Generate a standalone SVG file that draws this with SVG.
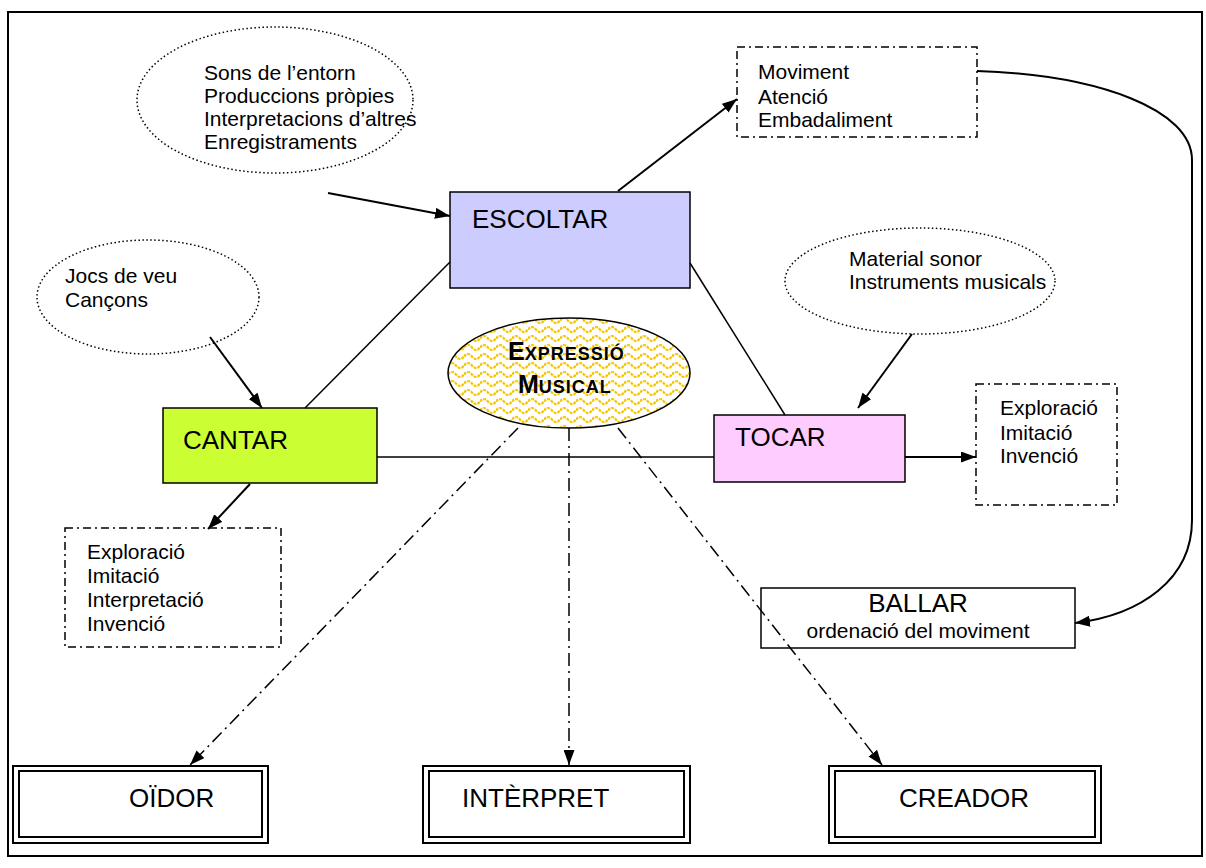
<svg xmlns="http://www.w3.org/2000/svg" width="1206" height="868" viewBox="0 0 1206 868">
  <style>
    text { font-family: "Liberation Sans", Arial, sans-serif; fill: #000; }
    .sm { font-size: 21px; }
    .lg { font-size: 26px; }
    .dotted { fill: #fff; stroke: #000; stroke-width: 1.5; stroke-dasharray: 1.5 2.5; }
    .dashdot { fill: #fff; stroke: #000; stroke-width: 1.5; stroke-dasharray: 8 4 2 4; }
    .box { stroke: #000; stroke-width: 1.5; }
    .link { fill: none; stroke: #000; stroke-width: 1.5; }
    .arrow { fill: none; stroke: #000; stroke-width: 2; marker-end: url(#head); }
    .ddarrow { fill: none; stroke: #000; stroke-width: 1.5; stroke-dasharray: 13 5 2 5; marker-end: url(#head); }
    .dbl-out { fill: #fff; stroke: #000; stroke-width: 2; }
    .dbl-in { fill: none; stroke: #000; stroke-width: 2; }
  </style>
  <defs>
    <marker id="head" viewBox="0 0 15 11" refX="15" refY="5.5" markerWidth="15" markerHeight="11" markerUnits="userSpaceOnUse" orient="auto">
      <path d="M0,0 L15,5.5 L0,11 z" fill="#000"/>
    </marker>
    <pattern id="waves" width="16" height="9" patternUnits="userSpaceOnUse">
      <rect width="16" height="9" fill="#fff"/>
      <path d="M0,5.5 Q4,0.5 8,5.5 T16,5.5" fill="none" stroke="#F7C600" stroke-width="2.2" stroke-dasharray="3 1"/>
    </pattern>
  </defs>

  <!-- frame -->
  <rect x="8" y="12" width="1194" height="844" fill="#fff" stroke="#000" stroke-width="2"/>

  <!-- sources ellipses -->
  <g id="sons">
    <ellipse class="dotted" cx="275" cy="100" rx="138" ry="73"/>
    <text class="sm" x="204" y="80">Sons de l’entorn</text>
    <text class="sm" x="204" y="103">Produccions pròpies</text>
    <text class="sm" x="204" y="126">Interpretacions d’altres</text>
    <text class="sm" x="204" y="149">Enregistraments</text>
  </g>
  <g id="jocs">
    <ellipse class="dotted" cx="148" cy="297" rx="111" ry="57"/>
    <text class="sm" x="65" y="283">Jocs de veu</text>
    <text class="sm" x="65" y="307">Cançons</text>
  </g>
  <g id="material">
    <ellipse class="dotted" cx="920" cy="281" rx="135" ry="53"/>
    <text class="sm" x="849" y="266">Material sonor</text>
    <text class="sm" x="849" y="289">Instruments musicals</text>
  </g>

  <!-- activities -->
  <g id="escoltar">
    <rect class="box" x="450" y="192" width="240" height="96" fill="#CCCCFF"/>
    <text class="lg" x="472" y="228">ESCOLTAR</text>
  </g>
  <g id="cantar">
    <rect class="box" x="163" y="408" width="214" height="75" fill="#CCFF33"/>
    <text class="lg" x="183" y="449">CANTAR</text>
  </g>
  <g id="tocar">
    <rect class="box" x="714" y="415" width="191" height="67" fill="#FFCCFF"/>
    <text class="lg" x="735" y="446">TOCAR</text>
  </g>
  <g id="ballar">
    <rect class="box" x="761" y="588" width="314" height="60" fill="#fff"/>
    <text class="lg" x="918" y="612" text-anchor="middle">BALLAR</text>
    <text class="sm" x="918" y="638" text-anchor="middle">ordenació del moviment</text>
  </g>

  <!-- outcomes lists -->
  <g id="moviment">
    <rect class="dashdot" x="737" y="47" width="240" height="90"/>
    <text class="sm" x="758" y="79">Moviment</text>
    <text class="sm" x="758" y="104">Atenció</text>
    <text class="sm" x="758" y="127">Embadaliment</text>
  </g>
  <g id="cantar-llista">
    <rect class="dashdot" x="65" y="528" width="216" height="119"/>
    <text class="sm" x="87" y="559">Exploració</text>
    <text class="sm" x="87" y="583">Imitació</text>
    <text class="sm" x="87" y="607">Interpretació</text>
    <text class="sm" x="87" y="631">Invenció</text>
  </g>
  <g id="tocar-llista">
    <rect class="dashdot" x="976" y="384" width="141" height="121"/>
    <text class="sm" x="1000" y="415">Exploració</text>
    <text class="sm" x="1000" y="440">Imitació</text>
    <text class="sm" x="1000" y="463">Invenció</text>
  </g>

  <!-- centre -->
  <g id="expressio">
    <ellipse cx="569" cy="373" rx="121" ry="55" fill="url(#waves)" stroke="#000" stroke-width="1.5"/>
    <text x="508" y="360" font-weight="bold"><tspan font-size="25">E</tspan><tspan font-size="18" letter-spacing="1">XPRESSIÓ</tspan></text>
    <text x="518" y="393" font-weight="bold"><tspan font-size="25">M</tspan><tspan font-size="18" letter-spacing="1">USICAL</tspan></text>
  </g>

  <!-- roles -->
  <g id="oidor">
    <rect class="dbl-out" x="13" y="766" width="255" height="77"/>
    <rect class="dbl-in" x="19" y="771" width="243" height="66"/>
    <text class="lg" x="129" y="807">OÏDOR</text>
  </g>
  <g id="interpret">
    <rect class="dbl-out" x="423" y="766" width="267" height="77"/>
    <rect class="dbl-in" x="429" y="771" width="255" height="66"/>
    <text class="lg" x="462" y="807">INTÈRPRET</text>
  </g>
  <g id="creador">
    <rect class="dbl-out" x="829" y="766" width="272" height="77"/>
    <rect class="dbl-in" x="835" y="771" width="260" height="66"/>
    <text class="lg" x="899" y="807">CREADOR</text>
  </g>

  <!-- connectors, drawn on top of the boxes -->
  <g id="connectors">
    <line class="link" x1="450" y1="262" x2="305" y2="408"/>
    <line class="link" x1="690" y1="263" x2="785" y2="415"/>
    <line class="link" x1="377" y1="457" x2="714" y2="457"/>
    <line class="arrow" x1="328" y1="193" x2="450" y2="216"/>
    <line class="arrow" x1="618" y1="191" x2="737" y2="99"/>
    <line class="arrow" x1="210" y1="337" x2="262" y2="408"/>
    <line class="arrow" x1="250" y1="484" x2="208" y2="529"/>
    <line class="arrow" x1="912" y1="334" x2="858" y2="408"/>
    <line class="arrow" x1="905" y1="457" x2="976" y2="457"/>
    <path class="arrow" d="M977,71 C1100,75 1192,110 1192,160 L1192,520 C1192,580 1140,615 1075,623"/>
    <line class="ddarrow" x1="518" y1="428" x2="190" y2="765"/>
    <line class="ddarrow" x1="569" y1="428" x2="569" y2="765"/>
    <line class="ddarrow" x1="618" y1="428" x2="882" y2="765"/>
  </g>
</svg>
